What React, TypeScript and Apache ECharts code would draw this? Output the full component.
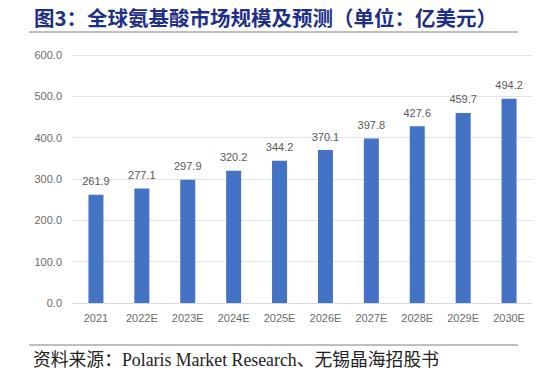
import React, { useEffect, useRef } from "react";
import * as echarts from "echarts";

const categories = ["2021", "2022E", "2023E", "2024E", "2025E", "2026E", "2027E", "2028E", "2029E", "2030E"];
const values = [261.9, 277.1, 297.9, 320.2, 344.2, 370.1, 397.8, 427.6, 459.7, 494.2];
const titleText = "图3：全球氨基酸市场规模及预测（单位：亿美元）";
const sourceText = "资料来源：Polaris Market Research、无锡晶海招股书";

export default function App() {
  const ref = useRef<HTMLDivElement>(null);
  useEffect(() => {
    document.body.style.margin = "0";
    const chart = echarts.init(ref.current!, null, { renderer: "svg" });
    chart.setOption({
      animation: false,
      backgroundColor: "#ffffff",
      grid: { left: 73, right: 14, top: 55, bottom: 71 },
      xAxis: {
        type: "category",
        data: categories,
        axisLine: { lineStyle: { color: "#d9d9d9" } },
        axisTick: { show: false },
        axisLabel: { color: "#6b6b6b", fontSize: 11, margin: 9, fontFamily: "'Liberation Sans', Arial, sans-serif" },
      },
      yAxis: {
        type: "value",
        min: 0,
        max: 600,
        interval: 100,
        axisLine: { show: false },
        axisTick: { show: false },
        splitLine: { lineStyle: { color: "#e3e3e3" } },
        axisLabel: {
          color: "#6b6b6b",
          fontSize: 11,
          margin: 11,
          fontFamily: "'Liberation Sans', Arial, sans-serif",
          formatter: (v: number) => v.toFixed(1),
        },
      },
      series: [
        {
          type: "bar",
          data: values,
          barWidth: 15,
          itemStyle: { color: "#4472C4" },
          label: {
            show: true,
            position: "top",
            distance: 8,
            color: "#595959",
            fontSize: 11,
            fontFamily: "'Liberation Sans', Arial, sans-serif",
            formatter: (p: any) => p.value.toFixed(1),
          },
        },
      ],
      graphic: [
        {
          type: "text",
          x: 34,
          y: 17,
          style: {
            text: titleText,
            fill: "#1F2F86",
            font: "bold 20.5px 'Noto Sans CJK SC', serif",
            verticalAlign: "middle",
          },
        },
        {
          type: "line",
          shape: { x1: 29, y1: 32, x2: 518, y2: 32 },
          style: { stroke: "#7f7f7f", lineWidth: 1 },
        },
        {
          type: "line",
          shape: { x1: 29, y1: 345, x2: 518, y2: 345 },
          style: { stroke: "#7f7f7f", lineWidth: 1 },
        },
        {
          type: "text",
          x: 33,
          y: 360,
          style: {
            text: sourceText,
            fill: "#222222",
            font: "17.8px 'Liberation Serif', 'Noto Sans CJK SC', serif",
            verticalAlign: "middle",
          },
        },
      ],
    });
    return () => chart.dispose();
  }, []);
  return <div ref={ref} style={{ width: 546, height: 374 }} />;
}
